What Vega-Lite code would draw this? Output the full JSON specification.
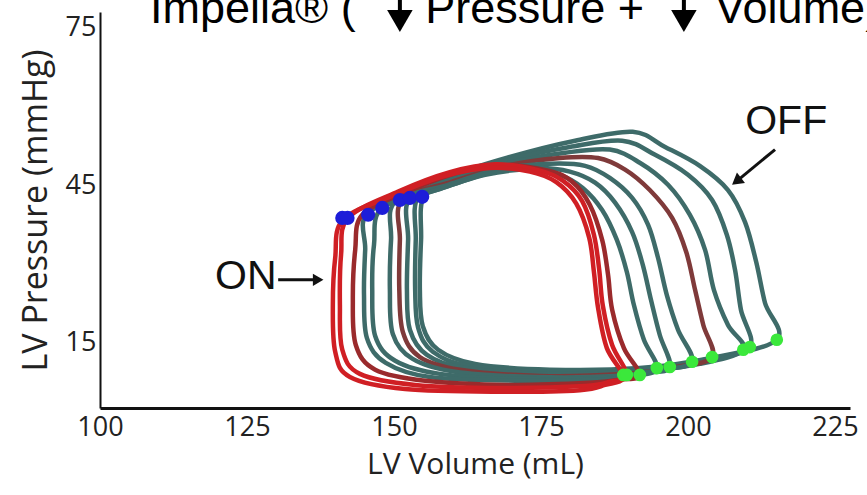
{
  "$schema": "https://vega.github.io/schema/vega-lite/v6.json",
  "width": 750,
  "height": 396,
  "autosize": {"type": "none"},
  "padding": {"left": 100, "top": 12, "right": 17, "bottom": 87},
  "background": "white",
  "config": {"view": {"stroke": null}},
  "datasets": {
    "loops": [
      {"loop":9,"o":0,"vol":215.1,"p":15.6},{"loop":9,"o":1,"vol":213.1,"p":22.6},{"loop":9,"o":2,"vol":211.6,"p":30.4},{"loop":9,"o":3,"vol":209.7,"p":38.0},{"loop":9,"o":4,"vol":206.8,"p":44.1},{"loop":9,"o":5,"vol":202.0,"p":48.7},{"loop":9,"o":6,"vol":196.1,"p":52.3},{"loop":9,"o":7,"vol":190.6,"p":55.2},{"loop":9,"o":8,"vol":180.8,"p":53.5},{"loop":9,"o":9,"vol":169.7,"p":50.4},{"loop":9,"o":10,"vol":160.4,"p":47.0},{"loop":9,"o":11,"vol":155.1,"p":43.0},{"loop":9,"o":12,"vol":154.6,"p":34.6},{"loop":9,"o":13,"vol":154.4,"p":25.1},{"loop":9,"o":14,"vol":154.9,"p":18.2},{"loop":9,"o":15,"vol":157.5,"p":13.7},{"loop":9,"o":16,"vol":163.8,"p":11.0},{"loop":9,"o":17,"vol":176.5,"p":9.9},{"loop":9,"o":18,"vol":191.8,"p":10.2},{"loop":9,"o":19,"vol":203.7,"p":12.1},
      {"loop":8,"o":0,"vol":210.5,"p":14.2},{"loop":8,"o":1,"vol":209.0,"p":21.3},{"loop":8,"o":2,"vol":208.0,"p":28.9},{"loop":8,"o":3,"vol":206.6,"p":35.6},{"loop":8,"o":4,"vol":204.1,"p":42.2},{"loop":8,"o":5,"vol":200.0,"p":47.0},{"loop":8,"o":6,"vol":194.4,"p":50.8},{"loop":8,"o":7,"vol":188.8,"p":53.5},{"loop":8,"o":8,"vol":179.9,"p":52.3},{"loop":8,"o":9,"vol":169.7,"p":49.9},{"loop":8,"o":10,"vol":160.4,"p":46.6},{"loop":8,"o":11,"vol":154.1,"p":42.8},{"loop":8,"o":12,"vol":153.7,"p":34.6},{"loop":8,"o":13,"vol":153.6,"p":25.1},{"loop":8,"o":14,"vol":154.1,"p":17.9},{"loop":8,"o":15,"vol":156.6,"p":13.3},{"loop":8,"o":16,"vol":162.9,"p":10.6},{"loop":8,"o":17,"vol":176.5,"p":9.5},{"loop":8,"o":18,"vol":191.8,"p":9.9},{"loop":8,"o":19,"vol":202.9,"p":11.8},
      {"loop":7,"o":0,"vol":209.4,"p":13.7},{"loop":7,"o":1,"vol":206.8,"p":18.4},{"loop":7,"o":2,"vol":204.4,"p":25.1},{"loop":7,"o":3,"vol":202.9,"p":32.7},{"loop":7,"o":4,"vol":200.3,"p":39.4},{"loop":7,"o":5,"vol":196.6,"p":45.1},{"loop":7,"o":6,"vol":191.8,"p":49.3},{"loop":7,"o":7,"vol":186.7,"p":51.8},{"loop":7,"o":8,"vol":179.1,"p":51.2},{"loop":7,"o":9,"vol":169.7,"p":49.3},{"loop":7,"o":10,"vol":160.4,"p":46.2},{"loop":7,"o":11,"vol":152.7,"p":42.6},{"loop":7,"o":12,"vol":152.4,"p":34.6},{"loop":7,"o":13,"vol":152.2,"p":25.1},{"loop":7,"o":14,"vol":152.7,"p":17.5},{"loop":7,"o":15,"vol":155.6,"p":12.7},{"loop":7,"o":16,"vol":162.1,"p":10.2},{"loop":7,"o":17,"vol":175.7,"p":9.1},{"loop":7,"o":18,"vol":191.0,"p":9.5},{"loop":7,"o":19,"vol":202.0,"p":11.0},
      {"loop":6,"o":0,"vol":204.1,"p":12.3},{"loop":6,"o":1,"vol":202.6,"p":18.4},{"loop":6,"o":2,"vol":201.2,"p":25.1},{"loop":6,"o":3,"vol":199.7,"p":32.3},{"loop":6,"o":4,"vol":197.3,"p":38.8},{"loop":6,"o":5,"vol":193.5,"p":44.1},{"loop":6,"o":6,"vol":189.3,"p":48.0},{"loop":6,"o":7,"vol":184.7,"p":50.2},{"loop":6,"o":8,"vol":178.2,"p":50.2},{"loop":6,"o":9,"vol":168.9,"p":48.7},{"loop":6,"o":10,"vol":159.9,"p":45.7},{"loop":6,"o":11,"vol":151.4,"p":42.2},{"loop":6,"o":12,"vol":151.0,"p":34.6},{"loop":6,"o":13,"vol":150.9,"p":25.1},{"loop":6,"o":14,"vol":151.5,"p":17.1},{"loop":6,"o":15,"vol":154.4,"p":12.3},{"loop":6,"o":16,"vol":161.2,"p":9.9},{"loop":6,"o":17,"vol":174.8,"p":8.7},{"loop":6,"o":18,"vol":189.3,"p":9.1},{"loop":6,"o":19,"vol":197.8,"p":10.4},
      {"loop":5,"o":0,"vol":200.7,"p":11.4},{"loop":5,"o":1,"vol":198.3,"p":17.5},{"loop":5,"o":2,"vol":196.4,"p":24.1},{"loop":5,"o":3,"vol":194.9,"p":31.2},{"loop":5,"o":4,"vol":193.2,"p":37.5},{"loop":5,"o":5,"vol":190.5,"p":42.6},{"loop":5,"o":6,"vol":186.7,"p":46.4},{"loop":5,"o":7,"vol":182.5,"p":48.7},{"loop":5,"o":8,"vol":176.5,"p":49.1},{"loop":5,"o":9,"vol":168.0,"p":48.1},{"loop":5,"o":10,"vol":159.2,"p":45.1},{"loop":5,"o":11,"vol":150.2,"p":41.9},{"loop":5,"o":12,"vol":149.5,"p":34.6},{"loop":5,"o":13,"vol":149.3,"p":25.1},{"loop":5,"o":14,"vol":149.8,"p":16.7},{"loop":5,"o":15,"vol":153.1,"p":12.0},{"loop":5,"o":16,"vol":160.4,"p":9.5},{"loop":5,"o":17,"vol":174.0,"p":8.5},{"loop":5,"o":18,"vol":187.6,"p":8.7},{"loop":5,"o":19,"vol":195.2,"p":9.9},
      {"loop":4,"o":0,"vol":196.9,"p":10.4},{"loop":4,"o":1,"vol":195.2,"p":16.5},{"loop":4,"o":2,"vol":193.7,"p":23.2},{"loop":4,"o":3,"vol":192.3,"p":29.9},{"loop":4,"o":4,"vol":190.5,"p":36.1},{"loop":4,"o":5,"vol":187.6,"p":41.7},{"loop":4,"o":6,"vol":184.2,"p":45.5},{"loop":4,"o":7,"vol":179.9,"p":47.6},{"loop":4,"o":8,"vol":174.8,"p":48.3},{"loop":4,"o":9,"vol":167.2,"p":47.6},{"loop":4,"o":10,"vol":157.8,"p":44.3},{"loop":4,"o":11,"vol":148.0,"p":40.7},{"loop":4,"o":12,"vol":146.6,"p":33.7},{"loop":4,"o":13,"vol":146.3,"p":25.1},{"loop":4,"o":14,"vol":146.8,"p":16.3},{"loop":4,"o":15,"vol":150.2,"p":11.6},{"loop":4,"o":16,"vol":157.8,"p":9.1},{"loop":4,"o":17,"vol":172.3,"p":8.1},{"loop":4,"o":18,"vol":185.9,"p":8.3},{"loop":4,"o":19,"vol":192.7,"p":9.3},
      {"loop":3,"o":0,"vol":194.7,"p":10.2},{"loop":3,"o":1,"vol":192.5,"p":15.6},{"loop":3,"o":2,"vol":190.8,"p":22.2},{"loop":3,"o":3,"vol":189.6,"p":28.5},{"loop":3,"o":4,"vol":187.9,"p":34.6},{"loop":3,"o":5,"vol":185.4,"p":40.3},{"loop":3,"o":6,"vol":182.1,"p":44.5},{"loop":3,"o":7,"vol":178.2,"p":47.0},{"loop":3,"o":8,"vol":173.1,"p":48.0},{"loop":3,"o":9,"vol":165.5,"p":47.0},{"loop":3,"o":10,"vol":155.8,"p":43.6},{"loop":3,"o":11,"vol":145.6,"p":39.8},{"loop":3,"o":12,"vol":145.1,"p":32.7},{"loop":3,"o":13,"vol":144.9,"p":24.1},{"loop":3,"o":14,"vol":145.4,"p":15.9},{"loop":3,"o":15,"vol":148.6,"p":11.2},{"loop":3,"o":16,"vol":156.1,"p":8.5},{"loop":3,"o":17,"vol":170.6,"p":7.8},{"loop":3,"o":18,"vol":184.7,"p":8.0},{"loop":3,"o":19,"vol":191.0,"p":8.7},
      {"loop":2,"o":0,"vol":191.8,"p":8.9},{"loop":2,"o":1,"vol":189.1,"p":14.0},{"loop":2,"o":2,"vol":187.1,"p":21.3},{"loop":2,"o":3,"vol":186.4,"p":28.0},{"loop":2,"o":4,"vol":185.4,"p":34.6},{"loop":2,"o":5,"vol":183.3,"p":41.3},{"loop":2,"o":6,"vol":180.3,"p":45.7},{"loop":2,"o":7,"vol":176.2,"p":47.8},{"loop":2,"o":8,"vol":168.0,"p":48.8},{"loop":2,"o":9,"vol":160.4,"p":47.3},{"loop":2,"o":10,"vol":151.9,"p":43.6},{"loop":2,"o":11,"vol":144.6,"p":39.4},{"loop":2,"o":12,"vol":143.4,"p":32.7},{"loop":2,"o":13,"vol":143.0,"p":23.2},{"loop":2,"o":14,"vol":143.5,"p":14.6},{"loop":2,"o":15,"vol":146.8,"p":9.9},{"loop":2,"o":16,"vol":155.3,"p":7.8},{"loop":2,"o":17,"vol":169.7,"p":7.0},{"loop":2,"o":18,"vol":183.3,"p":7.4},{"loop":2,"o":19,"vol":188.4,"p":8.0},
      {"loop":1,"o":0,"vol":189.6,"p":8.9},{"loop":1,"o":1,"vol":187.1,"p":14.6},{"loop":1,"o":2,"vol":185.5,"p":22.2},{"loop":1,"o":3,"vol":184.9,"p":28.9},{"loop":1,"o":4,"vol":184.0,"p":35.6},{"loop":1,"o":5,"vol":182.0,"p":42.0},{"loop":1,"o":6,"vol":178.7,"p":45.9},{"loop":1,"o":7,"vol":174.5,"p":47.9},{"loop":1,"o":8,"vol":167.2,"p":49.0},{"loop":1,"o":9,"vol":159.5,"p":47.5},{"loop":1,"o":10,"vol":150.7,"p":43.8},{"loop":1,"o":11,"vol":142.2,"p":38.8},{"loop":1,"o":12,"vol":141.0,"p":31.8},{"loop":1,"o":13,"vol":140.8,"p":22.2},{"loop":1,"o":14,"vol":141.2,"p":13.7},{"loop":1,"o":15,"vol":144.2,"p":9.1},{"loop":1,"o":16,"vol":153.6,"p":7.0},{"loop":1,"o":17,"vol":168.9,"p":6.4},{"loop":1,"o":18,"vol":182.5,"p":6.8},{"loop":1,"o":19,"vol":186.7,"p":7.6},
      {"loop":0,"o":0,"vol":189.0,"p":8.5},{"loop":0,"o":1,"vol":186.2,"p":14.0},{"loop":0,"o":2,"vol":184.7,"p":21.7},{"loop":0,"o":3,"vol":184.0,"p":28.5},{"loop":0,"o":4,"vol":183.2,"p":35.0},{"loop":0,"o":5,"vol":181.0,"p":41.5},{"loop":0,"o":6,"vol":177.6,"p":45.6},{"loop":0,"o":7,"vol":173.1,"p":47.6},{"loop":0,"o":8,"vol":166.3,"p":48.3},{"loop":0,"o":9,"vol":158.7,"p":46.8},{"loop":0,"o":10,"vol":149.7,"p":43.0},{"loop":0,"o":11,"vol":141.3,"p":38.4},{"loop":0,"o":12,"vol":140.0,"p":31.2},{"loop":0,"o":13,"vol":139.6,"p":22.2},{"loop":0,"o":14,"vol":140.0,"p":13.3},{"loop":0,"o":15,"vol":142.5,"p":8.5},{"loop":0,"o":16,"vol":151.9,"p":6.2},{"loop":0,"o":17,"vol":168.0,"p":5.7},{"loop":0,"o":18,"vol":181.6,"p":6.0},{"loop":0,"o":19,"vol":185.9,"p":7.0}
    ],
    "markers": [
      {"kind":"es","vol":141.2,"p":38.8},{"kind":"es","vol":142.1,"p":38.8},{"kind":"es","vol":145.6,"p":39.4},{"kind":"es","vol":148.0,"p":40.7},{"kind":"es","vol":151.0,"p":42.2},{"kind":"es","vol":152.7,"p":42.6},{"kind":"es","vol":154.8,"p":42.8},
      {"kind":"ed","vol":189.0,"p":8.9},{"kind":"ed","vol":189.6,"p":8.9},{"kind":"ed","vol":191.8,"p":8.9},{"kind":"ed","vol":194.7,"p":10.2},{"kind":"ed","vol":196.9,"p":10.4},{"kind":"ed","vol":200.7,"p":11.4},{"kind":"ed","vol":204.1,"p":12.3},{"kind":"ed","vol":209.4,"p":13.7},{"kind":"ed","vol":210.5,"p":14.2},{"kind":"ed","vol":215.1,"p":15.6}
    ],
    "notes": [
      {"grp":"label","txt":"ON","vol":124.8,"p":27.6},
      {"grp":"label","txt":"OFF","vol":216.7,"p":57.1},
      {"grp":"title","txt":"Impella® (","vol":108.5,"p":75.9},
      {"grp":"title","txt":"Pressure +","vol":155.3,"p":75.9},
      {"grp":"title","txt":"Volume)","vol":204.6,"p":75.9}
    ],
    "arrows": [
      {"id":"on","vol":130.3,"p":27.0,"vol2":137.1,"p2":27.0},
      {"id":"off","vol":214.8,"p":51.8,"vol2":208.5,"p2":46.0},
      {"id":"t1","vol":151.0,"p":82.0,"vol2":151.0,"p2":76.3},
      {"id":"t2","vol":199.3,"p":82.0,"vol2":199.3,"p2":76.3}
    ]
  },
  "encoding": {
    "x": {"field": "vol", "type": "quantitative",
      "scale": {"domain": [100, 227.55], "nice": false, "zero": false},
      "axis": {"values": [100,125,150,175,200,225], "title": "LV Volume (mL)", "ticks": false, "grid": false,
        "domainColor": "#111", "domainWidth": 3, "labelFont": "Open Sans", "labelFontSize": 27,
        "labelColor": "#222", "labelPadding": 6, "labelFlush": false, "labelOverlap": false,
        "titleFont": "Open Sans", "titleFontSize": 30, "titleFontWeight": "normal", "titleColor": "#222", "titlePadding": 9}},
    "y": {"field": "p", "type": "quantitative",
      "scale": {"domain": [2.6, 78], "nice": false, "zero": false},
      "axis": {"values": [15,45,75], "title": "LV Pressure (mmHg)", "ticks": false, "grid": false,
        "domainColor": "#111", "domainWidth": 2, "labelFont": "Open Sans", "labelFontSize": 27,
        "labelColor": "#222", "labelPadding": 4, "labelFlush": false, "labelOverlap": false,
        "titleFont": "Open Sans", "titleFontSize": 34, "titleFontWeight": "normal", "titleColor": "#222", "titlePadding": 12}}
  },
  "layer": [
    {
      "data": {"name": "loops"},
      "mark": {"type": "line", "interpolate": "cardinal-closed"},
      "encoding": {
        "detail": {"field": "loop", "type": "nominal"},
        "order": {"field": "o", "type": "quantitative"},
        "color": {"field": "loop", "type": "nominal", "legend": null,
          "scale": {"domain": [9,8,7,6,5,4,3,2,1,0], "range": ["#3e6b69","#3e6b69","#3e6b69","#7f3a3a","#3e6b69","#3e6b69","#3e6b69","#9a2a2c","#d01f24","#d01f24"]}},
        "strokeWidth": {"field": "loop", "type": "nominal", "legend": null,
          "scale": {"domain": [9,8,7,6,5,4,3,2,1,0], "range": [4.5,4.5,4.5,4.5,4.5,4.5,4.5,5,6,6]}}
      }
    },
    {
      "data": {"name": "markers"},
      "transform": [{"filter": "datum.kind === 'es'"}],
      "mark": {"type": "point", "filled": true, "shape": "circle", "opacity": 1, "color": "#1d1dd8", "size": 200}
    },
    {
      "data": {"name": "markers"},
      "transform": [{"filter": "datum.kind === 'ed'"}],
      "mark": {"type": "point", "filled": true, "shape": "circle", "opacity": 1, "color": "#3be83b", "size": 160}
    },
    {
      "data": {"name": "arrows"},
      "transform": [{"filter": "datum.id === 'on' || datum.id === 'off'"}],
      "mark": {"type": "rule", "color": "#111", "strokeWidth": 3},
      "encoding": {
        "x2": {"field": "vol2"},
        "y2": {"field": "p2"}
      }
    },
    {
      "data": {"name": "arrows"},
      "transform": [{"filter": "datum.id === 't1' || datum.id === 't2'"}],
      "mark": {"type": "rule", "color": "#000", "strokeWidth": 4},
      "encoding": {
        "x2": {"field": "vol2"},
        "y2": {"field": "p2"}
      }
    },
    {
      "data": {"name": "arrows"},
      "transform": [{"filter": "datum.id === 'on'"}],
      "mark": {"type": "point", "shape": "triangle-right", "filled": true, "color": "#111", "size": 150, "opacity": 1},
      "encoding": {"x": {"field": "vol2", "type": "quantitative"}, "y": {"field": "p2", "type": "quantitative"}}
    },
    {
      "data": {"name": "arrows"},
      "transform": [{"filter": "datum.id === 'off'"}],
      "mark": {"type": "point", "shape": "triangle", "angle": 232, "filled": true, "color": "#111", "size": 170, "opacity": 1},
      "encoding": {"x": {"field": "vol2", "type": "quantitative"}, "y": {"field": "p2", "type": "quantitative"}}
    },
    {
      "data": {"name": "arrows"},
      "transform": [{"filter": "datum.id === 't1' || datum.id === 't2'"}],
      "mark": {"type": "point", "shape": "triangle-down", "filled": true, "color": "#000", "size": 650, "opacity": 1},
      "encoding": {"x": {"field": "vol2", "type": "quantitative"}, "y": {"field": "p2", "type": "quantitative"}}
    },
    {
      "data": {"name": "notes"},
      "transform": [{"filter": "datum.grp === 'label'"}],
      "mark": {"type": "text", "font": "Liberation Sans", "fontSize": 41, "align": "center", "baseline": "middle", "color": "#111"},
      "encoding": {"text": {"field": "txt"}}
    },
    {
      "data": {"name": "notes"},
      "transform": [{"filter": "datum.grp === 'title'"}],
      "mark": {"type": "text", "font": "Liberation Sans", "fontSize": 45, "align": "left", "baseline": "alphabetic", "color": "#000"},
      "encoding": {"text": {"field": "txt"}}
    }
  ]
}
